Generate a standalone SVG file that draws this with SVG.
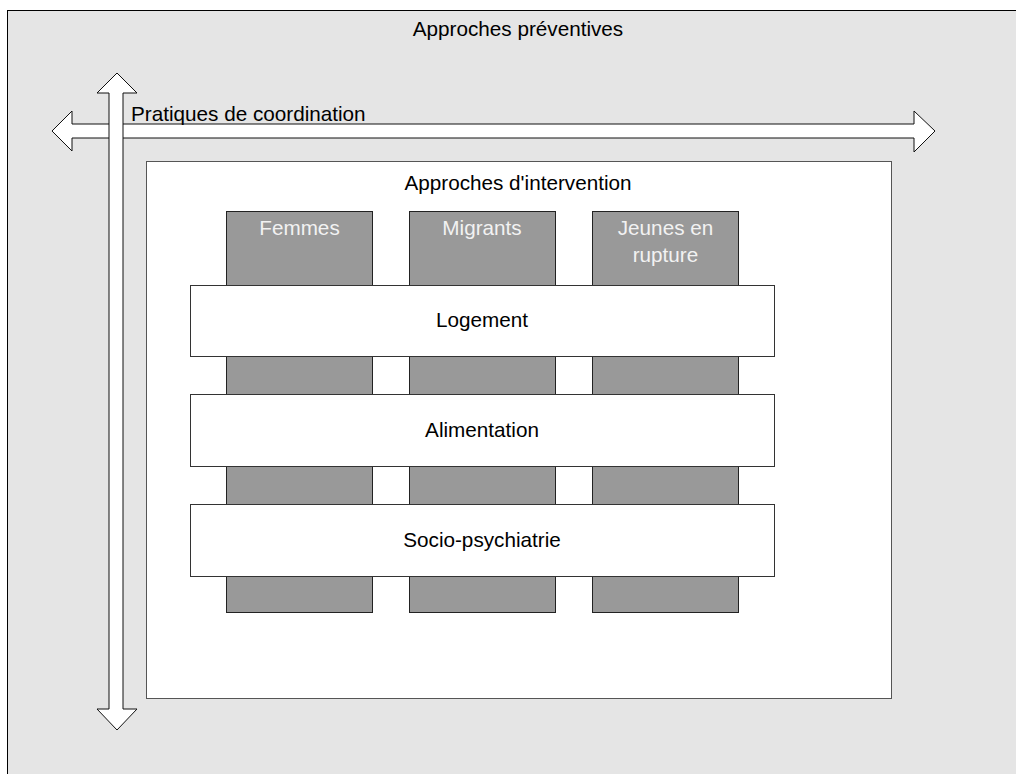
<svg xmlns="http://www.w3.org/2000/svg" width="1016" height="774" viewBox="0 0 1016 774">
<style>
text{font-family:"Liberation Sans",Arial,sans-serif;font-size:20.7px;fill:#000}
.col{fill:#999;stroke:#222;stroke-width:1}
.colt{fill:#f2f2f2;text-anchor:middle}
.bar{fill:#fff;stroke:#333;stroke-width:1}
.arr{fill:#fff;stroke:#111;stroke-width:1}
</style>
<g id="outer">
<rect x="7.5" y="10.5" width="1020" height="780" fill="#e5e5e5" stroke="#000" stroke-width="1"/>
<text x="518" y="36" text-anchor="middle">Approches préventives</text>
</g>
<g id="connectors">
<path class="arr" d="M52,131 L72,111 L72,124 L914,124 L914,111 L935,131 L914,152 L914,138 L72,138 L72,151 Z"/>
<path class="arr" d="M117,73 L137,93 L123,93 L123,709 L137,709 L117,730 L97,709 L109,709 L109,93 L97,93 Z"/>
<text x="131" y="121">Pratiques de coordination</text>
</g>
<g id="intervention">
<rect x="146.5" y="161.5" width="745" height="537" fill="#fff" stroke="#555" stroke-width="1"/>
<text x="518" y="190" text-anchor="middle">Approches d'intervention</text>
</g>
<g id="femmes">
<rect class="col" x="226.5" y="211.5" width="146" height="401"/>
<text class="colt" x="299.5" y="235">Femmes</text>
</g>
<g id="migrants">
<rect class="col" x="409.5" y="211.5" width="146" height="401"/>
<text class="colt" x="482" y="235">Migrants</text>
</g>
<g id="jeunes">
<rect class="col" x="592.5" y="211.5" width="146" height="401"/>
<text class="colt" x="665.5" y="235">Jeunes en</text>
<text class="colt" x="665.5" y="262">rupture</text>
</g>
<g id="logement">
<rect class="bar" x="190.5" y="285.5" width="584" height="71"/>
<text x="482" y="327" text-anchor="middle">Logement</text>
</g>
<g id="alimentation">
<rect class="bar" x="190.5" y="394.5" width="584" height="72"/>
<text x="482" y="437" text-anchor="middle">Alimentation</text>
</g>
<g id="socio">
<rect class="bar" x="190.5" y="504.5" width="584" height="72"/>
<text x="482" y="547" text-anchor="middle">Socio-psychiatrie</text>
</g>
</svg>
